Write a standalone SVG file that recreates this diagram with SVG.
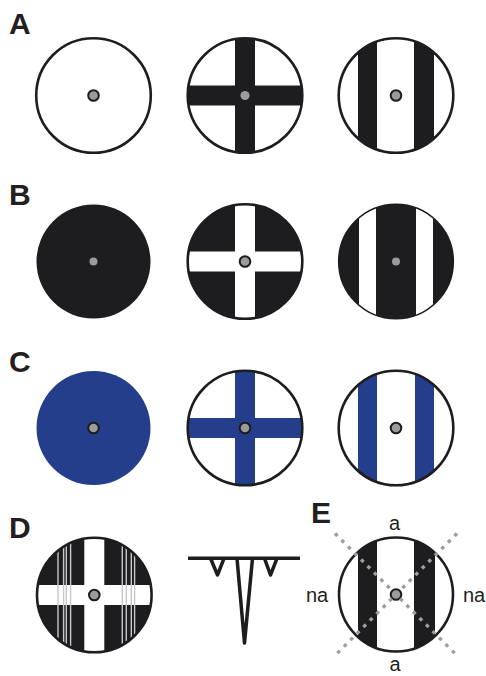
<svg xmlns="http://www.w3.org/2000/svg" width="486" height="676" viewBox="0 0 486 676">
<style>
.lbl{font-family:"Liberation Sans",Arial,sans-serif;font-weight:bold;font-size:30px;fill:#231f20}
.txt{font-family:"Liberation Sans",Arial,sans-serif;font-size:20px;fill:#231f20;text-anchor:middle}
.ring{fill:none;stroke:#1d1c1e;stroke-width:2.6}
.blk{fill:#1d1c1e}
.wht{fill:#ffffff}
.blu{fill:#253e8b}
.dot{fill:#9b9b9b;stroke:#1d1c1e;stroke-width:2}
.dotn{fill:#9b9b9b}
.gl{stroke:#c8c8c8;stroke-width:1.4}
.wave{fill:none;stroke:#1d1c1e;stroke-width:3.5;stroke-linejoin:round;stroke-linecap:butt}
.diag{stroke:#9d9d9d;stroke-width:3.4;stroke-dasharray:3.6 5.6}
</style>
<defs>
<clipPath id="disc"><circle cx="0" cy="0" r="57.3"/></clipPath>
</defs>

<text class="lbl" x="9" y="34">A</text>
<text class="lbl" x="9" y="205">B</text>
<text class="lbl" x="9" y="372">C</text>
<text class="lbl" x="9" y="538">D</text>
<text class="lbl" x="311" y="523">E</text>

<g id="a1" transform="translate(93.5,95.5)">
<circle r="57.3" class="wht"/>
<circle r="57.3" class="ring"/>
<circle r="5.3" class="dot"/>
</g>
<g id="a2" transform="translate(245,95.5)">
<circle r="57.3" class="wht"/>
<g clip-path="url(#disc)">
<rect x="-10" y="-60" width="20" height="120" class="blk"/>
<rect x="-60" y="-10" width="120" height="20" class="blk"/>
</g>
<circle r="57.3" class="ring"/>
<circle r="4.6" class="dotn"/>
</g>
<g id="a3" transform="translate(396,95.5)">
<circle r="57.3" class="wht"/>
<g clip-path="url(#disc)">
<rect x="-38" y="-60" width="19" height="120" class="blk"/>
<rect x="18" y="-60" width="20" height="120" class="blk"/>
</g>
<circle r="57.3" class="ring"/>
<circle r="5.3" class="dot"/>
</g>

<g id="b1" transform="translate(93.5,261.5)">
<circle r="57" class="blk"/>
<circle r="4" class="dotn"/>
</g>
<g id="b2" transform="translate(245,261.5)">
<circle r="57.3" class="blk"/>
<g clip-path="url(#disc)">
<rect x="-10" y="-60" width="20" height="120" class="wht"/>
<rect x="-60" y="-10" width="120" height="20" class="wht"/>
</g>
<circle r="57.3" class="ring"/>
<circle r="5.3" class="dot"/>
</g>
<g id="b3" transform="translate(396,261.5)">
<circle r="57.3" class="blk"/>
<g clip-path="url(#disc)">
<rect x="-37" y="-60" width="17" height="120" class="wht"/>
<rect x="20" y="-60" width="17" height="120" class="wht"/>
</g>
<circle r="57.3" class="ring" style="stroke-width:1.6"/>
<circle r="4" class="dotn"/>
</g>

<g id="c1" transform="translate(93.5,428)">
<circle r="57" class="blu"/>
<circle r="5.3" class="dot"/>
</g>
<g id="c2" transform="translate(245,428)">
<circle r="57.3" class="wht"/>
<g clip-path="url(#disc)">
<rect x="-10" y="-60" width="20" height="120" class="blu"/>
<rect x="-60" y="-10" width="120" height="20" class="blu"/>
</g>
<circle r="57.3" class="ring"/>
<circle r="5.3" class="dot"/>
</g>
<g id="c3" transform="translate(396,428)">
<circle r="57.3" class="wht"/>
<g clip-path="url(#disc)">
<rect x="-38" y="-60" width="19" height="120" class="blu"/>
<rect x="19" y="-60" width="19" height="120" class="blu"/>
</g>
<circle r="57.3" class="ring"/>
<circle r="5.3" class="dot"/>
</g>

<g id="d1" transform="translate(94.3,595)">
<circle r="57.3" class="blk"/>
<g clip-path="url(#disc)">
<rect x="-10" y="-60" width="20" height="120" class="wht"/>
<rect x="-60" y="-10" width="120" height="20" class="wht"/>
<line x1="-36.3" y1="-60" x2="-36.3" y2="60" class="gl"/>
<line x1="-30.7" y1="-60" x2="-30.7" y2="60" class="gl"/>
<line x1="-28" y1="-60" x2="-28" y2="60" class="gl"/>
<line x1="-23.7" y1="-60" x2="-23.7" y2="60" class="gl"/>
<line x1="28" y1="-60" x2="28" y2="60" class="gl"/>
<line x1="32" y1="-60" x2="32" y2="60" class="gl"/>
<line x1="37" y1="-60" x2="37" y2="60" class="gl"/>
<line x1="40.3" y1="-60" x2="40.3" y2="60" class="gl"/>
</g>
<circle r="57.3" class="ring"/>
<circle r="5.3" class="dot"/>
</g>

<g id="d2">
<line x1="188" y1="558.3" x2="300" y2="558.3" class="wave"/>
<polyline points="210.5,558.3 217.5,575 224,558.3" class="wave"/>
<polyline points="237,558.3 244.5,643 252.5,558.3" class="wave"/>
<polyline points="264.5,558.3 270.5,575 277,558.3" class="wave"/>
</g>

<g id="e1" transform="translate(396,594.5)">
<circle r="57" class="wht"/>
<g clip-path="url(#disc)">
<rect x="-38" y="-60" width="19" height="120" class="blk"/>
<rect x="18" y="-60" width="21" height="120" class="blk"/>
</g>
<circle r="57" class="ring"/>
<circle r="5.3" class="dot"/>
</g>
<g id="connectors">
<line x1="335" y1="533.5" x2="457" y2="655.5" class="diag"/>
<line x1="457" y1="533.5" x2="335" y2="655.5" class="diag"/>
</g>
<text class="txt" x="394.5" y="529.5">a</text>
<text class="txt" x="395" y="671">a</text>
<text class="txt" x="317" y="602">na</text>
<text class="txt" x="474" y="602">na</text>
</svg>
